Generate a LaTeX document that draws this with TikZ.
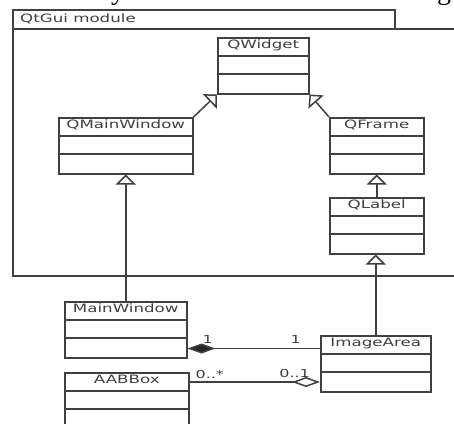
\documentclass[tikz,border=0pt]{standalone}
\usepackage{fontspec}
\usetikzlibrary{arrows.meta,calc}
\newfontfamily\umlfont[FakeStretch=1.45]{DejaVu Sans}
\newfontfamily\pagefont{Liberation Serif}
\colorlet{ink}{black!75}
\tikzset{
  clsbox/.style={draw=ink, line width=1.5pt, fill=white, minimum height=56pt, inner sep=0pt},
  clsline/.style={draw=ink, line width=1.5pt},
  clstitle/.style={anchor=base, inner sep=0pt, text=ink, font=\umlfont\fontsize{11.5}{13}\selectfont},
  mult/.style={inner sep=0pt, text=ink, font=\umlfont\fontsize{11}{13}\selectfont},
  link/.style={draw=ink, line width=1.5pt},
  inherit/.style={link, -{Triangle[open, fill=white, length=10pt, width=20pt]}},
  compose/.style={link, {Diamond[fill=black!85, length=28pt, width=10pt]}-},
  aggregate/.style={link, -{Diamond[open, fill=white, length=28pt, width=10pt]}},
}
% class box: name, left, top, width, title
\newcommand\umlclass[5]{%
  \node[clsbox, minimum width=#4pt, anchor=north west] (#1) at (#2,#3) {};
  \node[clstitle] (#1-t) at ([yshift=-11.5pt]#1.north) {#5};
  \draw[clsline] ([yshift=-19pt]#1.north west) -- ([yshift=-19pt]#1.north east);
  \draw[clsline] ([yshift=-37pt]#1.north west) -- ([yshift=-37pt]#1.north east);
}
\begin{document}
\begin{tikzpicture}[x=1pt, y=-1pt]
\useasboundingbox (0,0) rectangle (454,423);
\clip (0,0) rectangle (454,423);
\fill[white] (0,0) rectangle (454,423);

% descenders of the text line above
\node[anchor=base, inner sep=0pt, font=\pagefont\fontsize{28}{30}\selectfont] (fragy) at (118,-1) {y};
\node[anchor=base, inner sep=0pt, font=\pagefont\fontsize{28}{30}\selectfont] (fragg) at (444,-1) {g};

% package frame
\draw[clsline] (13,29) rectangle (470,276);
\draw[clsline] (13,29) -- (13,10) -- (395,10) -- (395,29);
\node[clstitle, anchor=base west] (pkg) at (20,22) {QtGui module};

% classes
\umlclass{qw}{217}{37}{91}{QWidget}
\umlclass{qmw}{58}{117}{134}{QMainWindow}
\umlclass{qf}{329}{117}{94}{QFrame}
\umlclass{ql}{329}{197}{94}{QLabel}
\umlclass{mw}{64}{301}{122}{MainWindow}
\umlclass{ia}{320}{335}{110}{ImageArea}
\umlclass{ab}{64}{372}{124}{AABBox}

% generalisations
\draw[inherit] (qmw.north east) -- (qw.south west);
\draw[inherit] (qf.north west) -- (qw.south east);
\draw[inherit] (ql.north) -- (qf.south);
\draw[inherit] (mw.north) -- (qmw.south);
\draw[inherit] (ia.north) -- (ia.north |- ql.south);

% composition MainWindow <>-- ImageArea
\coordinate (c1) at ([yshift=10pt]mw.south east);
\coordinate (c2) at (c1 -| ia.west);
\draw[compose] (c1) -- (c2);
\node[mult, anchor=base west] (m1) at ([xshift=15pt, yshift=5pt]c1) {1};
\node[mult, anchor=base east] (m2) at ([xshift=-19pt, yshift=5pt]c2) {1};

% aggregation AABBox --<> ImageArea
\coordinate (a1) at ([yshift=-10pt]ab.north east);
\coordinate (a2) at (a1 -| ia.west);
\draw[aggregate] (a1) -- (a2);
\node[mult, anchor=base west] (m3) at ([xshift=6pt, yshift=4pt]a1) {0..*};
\node[mult, anchor=base east] (m4) at ([xshift=-10pt, yshift=5pt]a2) {0..1};
\end{tikzpicture}
\end{document}
